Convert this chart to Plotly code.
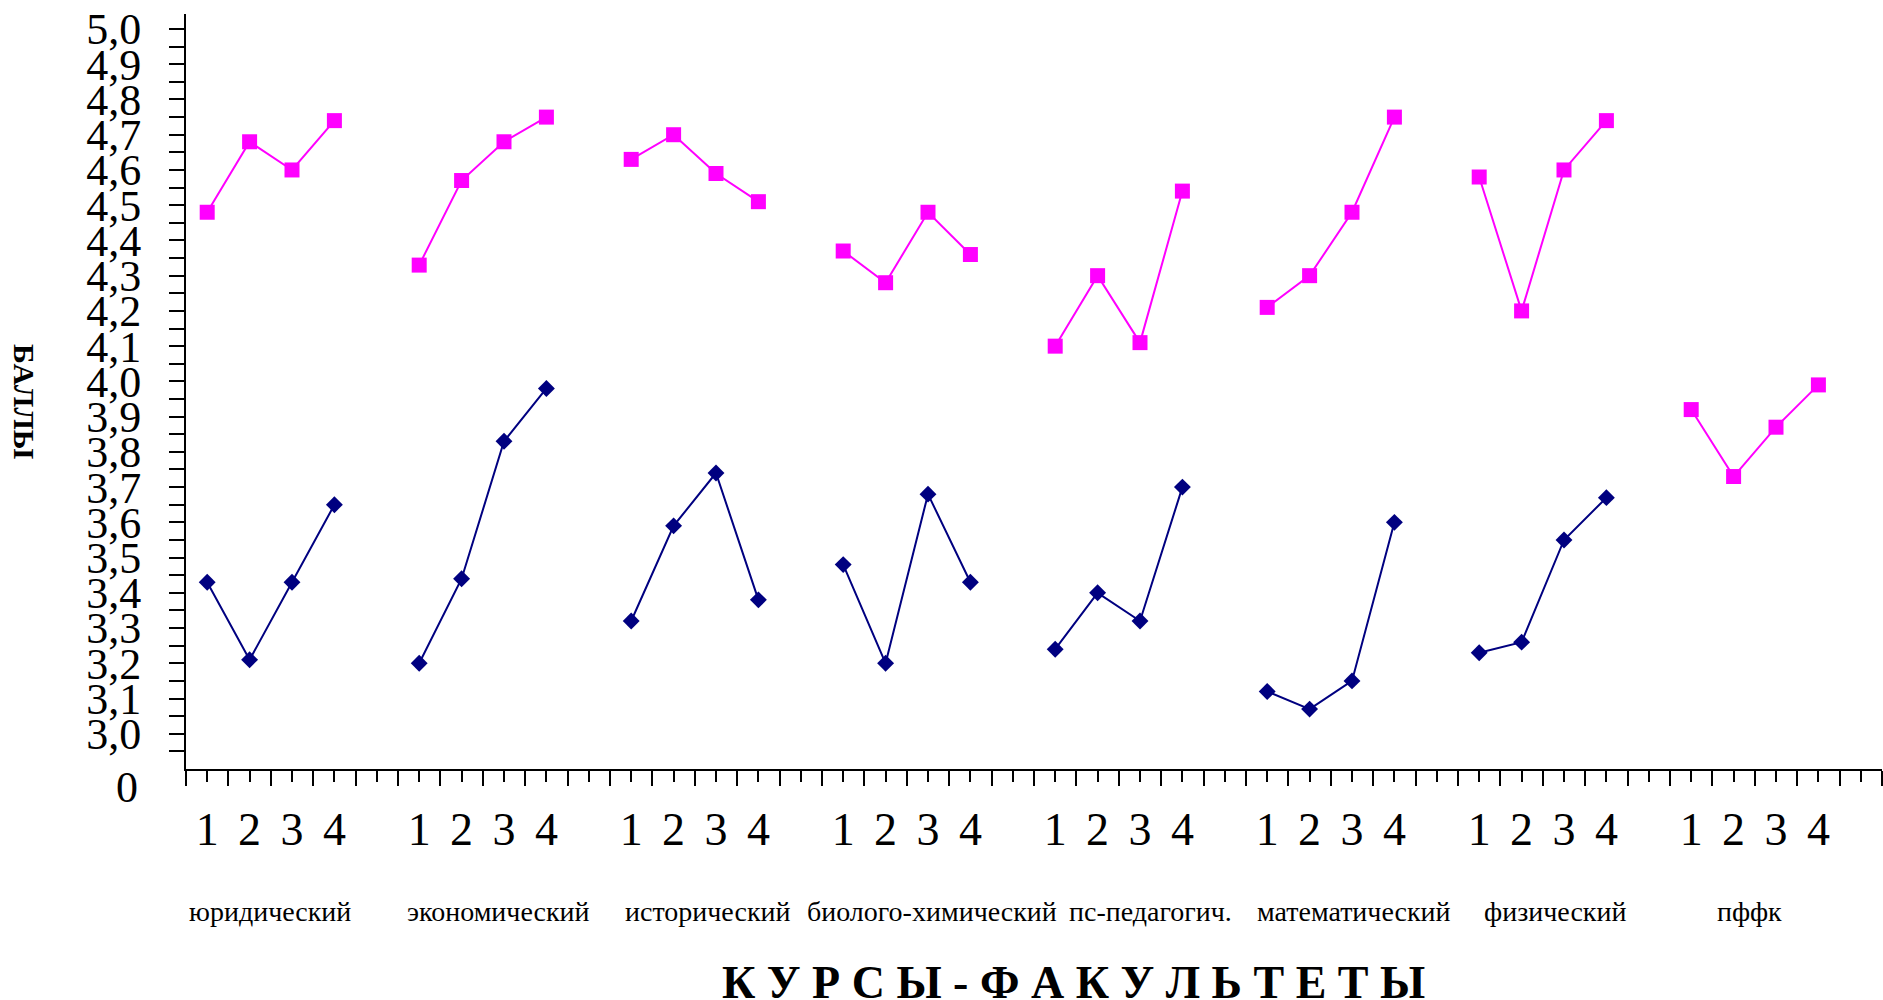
import plotly.graph_objects as go

# Faculties and study years (courses)
faculties = ["юридический", "экономический", "исторический", "биолого-химический",
             "пс-педагогич.", "математический", "физический", "пффк"]
courses = ["1", "2", "3", "4"]

# Upper (magenta) series: average score by course for each faculty
upper_scores = [
    [4.48, 4.68, 4.60, 4.74],
    [4.33, 4.57, 4.68, 4.75],
    [4.63, 4.70, 4.59, 4.51],
    [4.37, 4.28, 4.48, 4.36],
    [4.10, 4.30, 4.11, 4.54],
    [4.21, 4.30, 4.48, 4.75],
    [4.58, 4.20, 4.60, 4.74],
    [3.92, 3.73, 3.87, 3.99],
]

# Lower (navy) series: no values for the last faculty
lower_scores = [
    [3.43, 3.21, 3.43, 3.65],
    [3.20, 3.44, 3.83, 3.98],
    [3.32, 3.59, 3.74, 3.38],
    [3.48, 3.20, 3.68, 3.43],
    [3.24, 3.40, 3.32, 3.70],
    [3.12, 3.07, 3.15, 3.60],
    [3.23, 3.26, 3.55, 3.67],
]

# x-axis label centres for the faculty names (in category units)
faculty_label_x = [1.97, 7.38, 12.29, 17.59, 22.74, 27.55, 32.29, 36.88]

W, H = 1883, 1000
L, R, T, B = 186, 1, 14, 231
SLOT = len(courses) + 1          # four courses plus one empty slot per faculty
N_SLOTS = SLOT * len(faculties)

Y_MIN, Y_MAX = 2.9, 5.0426


def series_xy(groups):
    xs, ys = [], []
    for g, vals in enumerate(groups):
        for c, v in enumerate(vals):
            xs.append(g * SLOT + c + 0.5)
            ys.append(v)
        xs.append(None)
        ys.append(None)
    return xs, ys


fig = go.Figure()

ux, uy = series_xy(upper_scores)
fig.add_trace(go.Scatter(
    x=ux, y=uy, mode="lines+markers", connectgaps=False,
    line=dict(color="#FF00FF", width=2),
    marker=dict(symbol="square", size=15, color="#FF00FF"),
    showlegend=False, cliponaxis=False,
))

lx, ly = series_xy(lower_scores)
fig.add_trace(go.Scatter(
    x=lx, y=ly, mode="lines+markers", connectgaps=False,
    line=dict(color="#000080", width=2),
    marker=dict(symbol="diamond", size=13, color="#000080"),
    showlegend=False, cliponaxis=False,
))

# x ticks: short ticks with course numbers at slot centres, long ticks at slot edges
x_tickvals, x_ticktext = [], []
for g in range(len(faculties)):
    for c in range(SLOT):
        x_tickvals.append(g * SLOT + c + 0.5)
        x_ticktext.append(courses[c] if c < len(courses) else "")

# y ticks every 0.05, labelled every 0.1
y_tickvals, y_ticktext = [], []
for k in range(1, 43):
    v = round(2.9 + k * 0.05, 2)
    y_tickvals.append(v)
    y_ticktext.append(f"{v:.1f}".replace(".", ",") if k % 2 == 0 else "")

serif = "Liberation Serif"

fig.update_xaxes(
    range=[0, N_SLOTS], showgrid=False, zeroline=False,
    showline=True, linecolor="black", linewidth=2,
    tickmode="array", tickvals=x_tickvals, ticktext=x_ticktext,
    ticks="outside", ticklen=11, tickwidth=2, tickcolor="black",
    tickfont=dict(family=serif, size=46, color="black"),
    ticklabelstandoff=8,
    minor=dict(tickmode="array", tickvals=list(range(N_SLOTS + 1)),
               ticks="outside", ticklen=15, tickwidth=2, tickcolor="black"),
)

fig.update_yaxes(
    range=[Y_MIN, Y_MAX], showgrid=False, zeroline=False,
    showline=True, linecolor="black", linewidth=2,
    tickmode="array", tickvals=y_tickvals, ticktext=y_ticktext,
    ticks="outside", ticklen=15, tickwidth=2, tickcolor="black",
    tickfont=dict(family=serif, size=44, color="black"),
    ticklabelstandoff=19,
)


def px_x(p):
    return (p - L) / (W - L - R)


def px_y(p):
    return (H - B - p) / (H - T - B)


annotations = []
for name, xc in zip(faculties, faculty_label_x):
    annotations.append(dict(
        x=xc, xref="x", y=px_y(911), yref="paper", text=name, showarrow=False,
        xanchor="center", yanchor="middle",
        font=dict(family=serif, size=28, color="black"),
    ))

# baseline label below the axis break
annotations.append(dict(
    x=px_x(127), xref="paper", y=px_y(787), yref="paper", text="0", showarrow=False,
    xanchor="center", yanchor="middle",
    font=dict(family=serif, size=44, color="black"),
))

# axis titles
annotations.append(dict(
    x=px_x(1073), xref="paper", y=px_y(982), yref="paper",
    text="К У Р С Ы - Ф А К У Л Ь Т Е Т Ы", showarrow=False,
    xanchor="center", yanchor="middle",
    font=dict(family=serif, size=46, color="black", weight="bold"),
))
annotations.append(dict(
    x=px_x(25), xref="paper", y=px_y(401), yref="paper",
    text="БАЛЛЫ", showarrow=False, textangle=90,
    xanchor="center", yanchor="middle",
    font=dict(family=serif, size=30, color="black", weight="bold"),
))

fig.update_layout(
    width=W, height=H,
    margin=dict(l=L, r=R, t=T, b=B, pad=0),
    paper_bgcolor="white", plot_bgcolor="white",
    annotations=annotations,
    showlegend=False,
)

fig.write_html("out.html")
